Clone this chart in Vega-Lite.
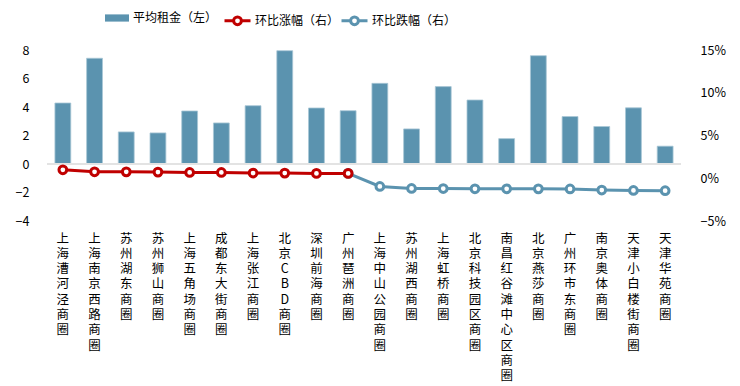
{
  "$schema": "https://vega.github.io/schema/vega-lite/v6.json",
  "autosize": {"type": "none"},
  "padding": {"left": 47, "top": 50, "right": 59, "bottom": 165},
  "width": 634,
  "height": 171,
  "config": {
    "view": {"stroke": null},
    "font": "Noto Sans CJK SC",
    "axis": {"labelFont": "Noto Sans CJK SC", "labelColor": "#000000", "grid": false, "domain": false, "ticks": false, "title": null},
    "legend": {"labelFont": "Noto Sans CJK SC", "labelColor": "#000000", "labelFontSize": 12}
  },
  "data": {
    "values": [
      {"name": "上海漕河泾商圈", "rent": 4.28, "rise": 0.0099, "fall": null},
      {"name": "上海南京西路商圈", "rent": 7.42, "rise": 0.0076, "fall": null},
      {"name": "苏州湖东商圈", "rent": 2.25, "rise": 0.0075, "fall": null},
      {"name": "苏州狮山商圈", "rent": 2.18, "rise": 0.0072, "fall": null},
      {"name": "上海五角场商圈", "rent": 3.72, "rise": 0.0068, "fall": null},
      {"name": "成都东大街商圈", "rent": 2.88, "rise": 0.0068, "fall": null},
      {"name": "上海张江商圈", "rent": 4.09, "rise": 0.0061, "fall": null},
      {"name": "北京CBD商圈", "rent": 7.95, "rise": 0.0060, "fall": null},
      {"name": "深圳前海商圈", "rent": 3.93, "rise": 0.0057, "fall": null},
      {"name": "广州琶洲商圈", "rent": 3.74, "rise": 0.0057, "fall": 0.0057},
      {"name": "上海中山公园商圈", "rent": 5.66, "rise": null, "fall": -0.0096},
      {"name": "苏州湖西商圈", "rent": 2.46, "rise": null, "fall": -0.0119},
      {"name": "上海虹桥商圈", "rent": 5.43, "rise": null, "fall": -0.0120},
      {"name": "北京科技园区商圈", "rent": 4.49, "rise": null, "fall": -0.0123},
      {"name": "南昌红谷滩中心区商圈", "rent": 1.78, "rise": null, "fall": -0.0123},
      {"name": "北京燕莎商圈", "rent": 7.6, "rise": null, "fall": -0.0124},
      {"name": "广州环市东商圈", "rent": 3.33, "rise": null, "fall": -0.0125},
      {"name": "南京奥体商圈", "rent": 2.63, "rise": null, "fall": -0.0138},
      {"name": "天津小白楼街商圈", "rent": 3.94, "rise": null, "fall": -0.0143},
      {"name": "天津华苑商圈", "rent": 1.25, "rise": null, "fall": -0.0146}
    ]
  },
  "encoding": {
    "x": {
      "field": "name", "type": "nominal", "sort": null,
      "scale": {"paddingInner": 0.5, "paddingOuter": 0.25},
      "axis": {"labelAngle": 0, "labelExpr": "split(datum.label, '')", "labelBaseline": "top", "labelLineHeight": 15.3, "labelFontSize": 12.5, "labelPadding": 11}
    }
  },
  "layer": [
    {
      "mark": {"type": "bar", "stroke": "#a8c6d6", "strokeWidth": 0.8},
      "encoding": {
        "y": {"field": "rent", "type": "quantitative", "scale": {"domain": [-4, 8], "nice": false},
          "axis": {"orient": "left", "values": [-4, -2, 0, 2, 4, 6, 8], "labelFontSize": 12.5, "labelPadding": 18}},
        "fill": {"datum": "平均租金（左）", "type": "nominal",
          "scale": {"domain": ["平均租金（左）"], "range": ["#5b93af"]},
          "legend": {"title": null, "orient": "none", "legendX": 58, "legendY": -44, "padding": 0,
            "symbolType": "M-1,-0.3H1V0.3H-1Z", "symbolSize": 576, "symbolStrokeWidth": 0, "labelOffset": 4}}
      }
    },
    {
      "mark": {"type": "rule", "color": "#e3e3e3", "strokeWidth": 2},
      "encoding": {
        "y": {"datum": 0, "type": "quantitative", "scale": {"domain": [-4, 8], "nice": false}, "axis": null},
        "x": null
      }
    },
    {
      "transform": [{"filter": "datum.fall != null"}],
      "mark": {"type": "line", "strokeWidth": 3, "point": {"filled": false, "fill": "white", "size": 60, "strokeWidth": 3}},
      "encoding": {
        "y": {"field": "fall", "type": "quantitative", "scale": {"domain": [-0.05, 0.15], "nice": false}, "axis": null},
        "stroke": {"datum": "环比跌幅（右）", "type": "nominal",
          "scale": {"domain": ["环比涨幅（右）", "环比跌幅（右）"], "range": ["#c00000", "#5b93af"]},
          "legend": {"title": null, "orient": "none", "legendX": 176, "legendY": -44, "padding": 0, "direction": "horizontal", "columnPadding": -5,
            "symbolType": "M-1,0H-0.3M0.3,0H1M0.3,0A0.3,0.3 0 1,1 -0.3,0A0.3,0.3 0 1,1 0.3,0Z", "symbolSize": 676, "symbolStrokeWidth": 3, "symbolFillColor": "white", "labelOffset": 3}}
      }
    },
    {
      "transform": [{"filter": "datum.rise != null"}],
      "mark": {"type": "line", "strokeWidth": 3, "point": {"filled": false, "fill": "white", "size": 60, "strokeWidth": 3}},
      "encoding": {
        "y": {"field": "rise", "type": "quantitative", "scale": {"domain": [-0.05, 0.15], "nice": false},
          "axis": {"orient": "right", "values": [-0.05, 0, 0.05, 0.1, 0.15], "format": ".0%", "labelFontSize": 12.5, "labelPadding": 19}},
        "stroke": {"datum": "环比涨幅（右）", "type": "nominal"}
      }
    }
  ],
  "resolve": {"scale": {"y": "independent"}}
}
